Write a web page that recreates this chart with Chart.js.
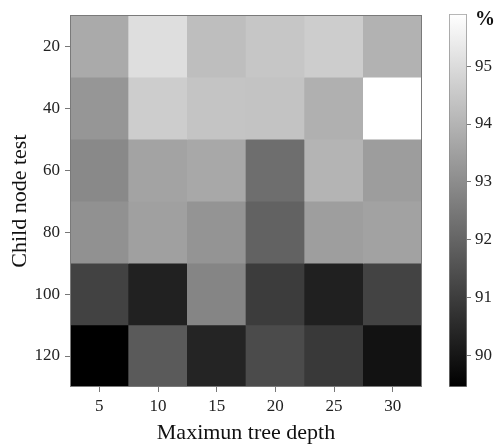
<!DOCTYPE html>
<html>
<head>
<meta charset="utf-8">
<script src="https://cdn.jsdelivr.net/npm/chart.js"></script>
<style>
  body { margin: 0; background: #fff; }
  #wrap { position: relative; width: 494px; height: 444px; }
  #heat { position: absolute; left: 0; top: 0; }
  #bar { position: absolute; left: 430px; top: 0; }
</style>
</head>
<body>
<div id="wrap">
  <canvas id="heat" width="430" height="444"></canvas>
  <canvas id="bar" width="64" height="444"></canvas>
</div>
<script>
// x categories (max tree depth) and y categories (child node test)
const depths = ["5", "10", "15", "20", "25", "30"];
const childNodes = ["20", "40", "60", "80", "100", "120"];

// accuracy (%) for each child node row, one value per depth
const row20 = [93.75, 95.07, 94.26, 94.46, 94.64, 93.95];
const row40 = [93.24, 94.64, 94.41, 94.38, 93.90, 95.90];
const row60 = [92.92, 93.57, 93.70, 92.23, 94.00, 93.42];
const row80 = [93.12, 93.50, 93.19, 91.93, 93.45, 93.55];
const row100 = [91.12, 90.28, 92.81, 90.97, 90.26, 91.14];
const row120 = [89.45, 91.73, 90.36, 91.35, 90.89, 89.91];

// colour bar range and ticks
const cbMin = 89.45;
const cbMax = 95.9;
const cbTicks = [90, 91, 92, 93, 94, 95];

const rows = [row20, row40, row60, row80, row100, row120];
const serif = "'Liberation Serif', 'Times New Roman', serif";

function gray(v) {
  let t = (v - cbMin) / (cbMax - cbMin);
  t = Math.max(0, Math.min(1, t));
  const g = Math.round(t * 255);
  return "rgb(" + g + "," + g + "," + g + ")";
}

const framePlugin = {
  id: "frame",
  afterDraw(chart) {
    const a = chart.chartArea;
    const ctx = chart.ctx;
    ctx.save();
    ctx.strokeStyle = "#7a7a7a";
    ctx.lineWidth = 1;
    ctx.strokeRect(Math.round(a.left) + 0.5, Math.round(a.top) + 0.5,
      Math.round(a.right - a.left) - 1, Math.round(a.bottom - a.top) - 1);
    ctx.restore();
  }
};

new Chart(document.getElementById("heat"), {
  type: "bar",
  data: {
    labels: depths,
    datasets: rows.map((r, i) => ({
      label: childNodes[i],
      data: r.map(() => 1),
      backgroundColor: r.map(gray),
      borderWidth: 0,
      barPercentage: 1,
      categoryPercentage: 1
    }))
  },
  options: {
    responsive: false,
    animation: false,
    layout: { padding: { top: 15, right: 8, left: 0, bottom: 0 } },
    plugins: { legend: { display: false }, tooltip: { enabled: false } },
    scales: {
      x: {
        stacked: true,
        grid: { display: true, drawOnChartArea: false, offset: false, tickLength: 5, color: "#777" },
        border: { display: false },
        ticks: { color: "#222", font: { family: serif, size: 17 }, padding: 4 },
        title: { display: true, text: "Maximun tree depth", color: "#111",
                 font: { family: serif, size: 22 }, padding: { top: 0, bottom: -2 } },
        afterFit(s) { s.height = 57; }
      },
      y: {
        stacked: true,
        reverse: true,
        min: 0,
        max: 6,
        afterBuildTicks(s) { s.ticks = childNodes.map((c, i) => ({ value: i + 0.5 })); },
        grid: { display: true, drawOnChartArea: false, tickLength: 5, color: "#777" },
        border: { display: false },
        ticks: { color: "#222", font: { family: serif, size: 17 }, padding: 5,
                 callback: (v, i) => childNodes[i] },
        title: { display: true, text: "Child node test", color: "#111",
                 font: { family: serif, size: 22 }, padding: { top: 7, bottom: 0 } },
        afterFit(s) { s.width = 70; }
      }
    }
  },
  plugins: [framePlugin]
});

const percentPlugin = {
  id: "percent",
  afterDraw(chart) {
    const ctx = chart.ctx;
    const s = chart.scales.y;
    ctx.save();
    ctx.fillStyle = "#111";
    ctx.font = "bold 20px " + serif;
    ctx.textAlign = "left";
    ctx.textBaseline = "middle";
    ctx.fillText("%", s.left + 8, chart.chartArea.top + 6);
    ctx.restore();
  }
};

new Chart(document.getElementById("bar"), {
  type: "bar",
  data: {
    labels: [""],
    datasets: [{
      data: [[cbMin, cbMax]],
      backgroundColor(c) {
        const a = c.chart.chartArea;
        if (!a) return "#888";
        const g = c.chart.ctx.createLinearGradient(0, a.bottom, 0, a.top);
        g.addColorStop(0, "#000");
        g.addColorStop(1, "#fff");
        return g;
      },
      borderColor: "#888",
      borderWidth: 1,
      borderSkipped: false,
      barPercentage: 1,
      categoryPercentage: 1
    }]
  },
  options: {
    responsive: false,
    animation: false,
    layout: { padding: { top: 14, left: 19, right: 0, bottom: 57 } },
    plugins: { legend: { display: false }, tooltip: { enabled: false } },
    scales: {
      x: { display: false },
      y: {
        position: "right",
        min: cbMin,
        max: cbMax,
        afterBuildTicks(s) { s.ticks = cbTicks.map(v => ({ value: v })); },
        grid: { display: true, drawOnChartArea: false, tickLength: 4, color: "#777" },
        border: { display: false },
        ticks: { color: "#222", font: { family: serif, size: 17 }, padding: 4 },
        afterFit(s) { s.width = 27; }
      }
    }
  },
  plugins: [percentPlugin]
});
</script>
</body>
</html>
